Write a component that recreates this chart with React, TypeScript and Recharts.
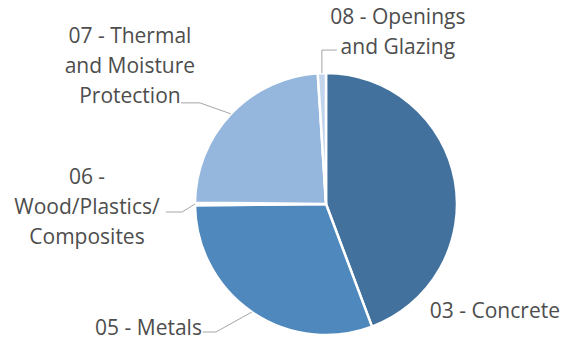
import { PieChart, Pie, Cell } from 'recharts'

const CATEGORIES = [
  '03 - Concrete',
  '05 - Metals',
  '06 - Wood/Plastics/Composites',
  '07 - Thermal and Moisture Protection',
  '08 - Openings and Glazing',
]
const SHARES = [44.2, 30.5, 0.3, 23.8, 1.0]
const LABEL_LINES = [
  ['03 - Concrete'],
  ['05 - Metals'],
  ['06 -', 'Wood/Plastics/', 'Composites'],
  ['07 - Thermal', 'and Moisture', 'Protection'],
  ['08 - Openings', 'and Glazing'],
]

const COLORS = ['#41719c', '#4e88bc', '#b4cbe7', '#95b6dd', '#c3d5ec']

// label placement relative to the slice's outer edge point
type Layout = { tx: number; ty: number; anchor: 'start' | 'middle' | 'end'; leader?: [number, number][] }
const LAYOUT: Layout[] = [
  { tx: 40, ty: 137, anchor: 'middle' },
  { tx: -50, ty: 23, anchor: 'end', leader: [[-36, 20], [-49, 20]] },
  { tx: -108, ty: -20, anchor: 'middle', leader: [[-13, 8], [-29, 8]] },
  { tx: -101, ty: -71, anchor: 'middle', leader: [[-31, -11], [-50, -11]] },
  { tx: 76, ty: -49, anchor: 'middle', leader: [[0, -23], [15, -23]] },
]

const data = CATEGORIES.map((name, i) => ({ name, value: SHARES[i] }))

const RAD = Math.PI / 180
const LINE_H = 30

function renderLabel(props: any) {
  const { cx, cy, midAngle, outerRadius, index } = props
  const ax = cx + outerRadius * Math.cos(-midAngle * RAD)
  const ay = cy + outerRadius * Math.sin(-midAngle * RAD)
  const l = LAYOUT[index]
  const pts = l.leader ? [[0, 0], ...l.leader].map(([x, y]) => `${ax + x},${ay + y}`).join(' ') : null
  return (
    <g key={`lbl-${index}`}>
      {pts && <polyline points={pts} fill="none" stroke="#a6a6a6" strokeWidth={1} />}
      <text
        x={ax + l.tx}
        y={ay + l.ty}
        textAnchor={l.anchor}
        fill="#4d4d4d"
        fontSize={21}
        fontFamily="'Open Sans', sans-serif"
      >
        {LABEL_LINES[index].map((line, j) => (
          <tspan key={j} x={ax + l.tx} dy={j === 0 ? 0 : LINE_H}>
            {line}
          </tspan>
        ))}
      </text>
    </g>
  )
}

export default function App() {
  return (
    <div style={{ position: 'absolute', left: 0, top: 0, width: 570, height: 341, background: '#fff' }}>
      <PieChart width={570} height={341} margin={{ top: 0, right: 0, bottom: 0, left: 0 }}>
        <Pie
          data={data}
          dataKey="value"
          nameKey="name"
          cx={326}
          cy={204}
          outerRadius={131}
          startAngle={90}
          endAngle={-270}
          stroke="#ffffff"
          strokeWidth={2.5}
          label={renderLabel}
          labelLine={false}
          isAnimationActive={false}
        >
          {data.map((d, i) => (
            <Cell key={d.name} fill={COLORS[i]} />
          ))}
        </Pie>
      </PieChart>
    </div>
  )
}
